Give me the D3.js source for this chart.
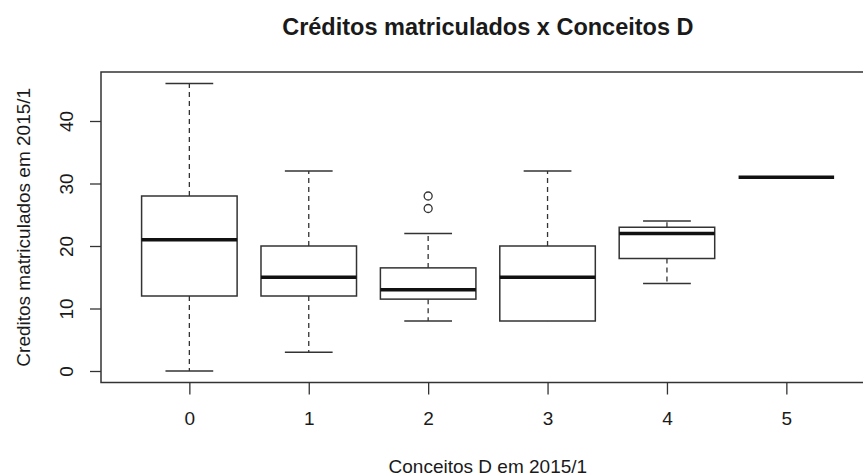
<!DOCTYPE html>
<html>
<head>
<meta charset="utf-8">
<script src="https://cdn.jsdelivr.net/npm/d3@7"></script>
<style>
    body { margin: 0; background: #fff; }
    #chart { width: 863px; height: 476px; }
    text { font-family: "Liberation Sans", Arial, sans-serif; fill: #1a1a1a; }
</style>
</head>
<body>
<div id="chart"></div>
<script>
// values (R boxplot stats per group)
let categories = ["0", "1", "2", "3", "4", "5"];
let whiskerLow = [0, 3, 8, 8, 14, 31];
let q1 = [12, 12, 11.5, 8, 18, 31];
let median = [21, 15, 13, 15, 22, 31];
let q3 = [28, 20, 16.5, 20, 23, 31];
let whiskerHigh = [46, 32, 22, 32, 24, 31];
let outliers = [[], [], [28, 26], [], [], []];
let yTicks = [0, 10, 20, 30, 40];

let titleText = "Créditos matriculados x Conceitos D";
let xTitle = "Conceitos D em 2015/1";
let yTitle = "Creditos matriculados em 2015/1";

class BoxPlotVis {
    constructor(parentElement) {
        this.parentElement = parentElement;
        this.initVis();
    }

    initVis() {
        let vis = this;

        vis.width = 863;
        vis.height = 476;
        vis.plot = { left: 101, top: 72, right: 874.7, bottom: 382.5 };
        vis.fontSize = 19;

        vis.svg = d3.select(`#${vis.parentElement}`).append("svg")
            .attr("width", vis.width)
            .attr("height", vis.height);

        // R style: xlim 0.5..6.5 stretched by 4%, ylim range stretched by 4%
        let n = categories.length;
        let padX = n * 0.04;
        vis.xScale = d3.scaleLinear()
            .domain([0.5 - padX, n + 0.5 + padX])
            .range([vis.plot.left, vis.plot.right]);

        let lo = d3.min(whiskerLow), hi = d3.max(whiskerHigh.concat(outliers.flat()));
        let padY = (hi - lo) * 0.04;
        vis.yScale = d3.scaleLinear()
            .domain([lo - padY, hi + padY])
            .range([vis.plot.bottom, vis.plot.top]);

        vis.wrangleData();
    }

    wrangleData() {
        let vis = this;
        vis.boxData = categories.map((c, i) => ({
            cat: c,
            pos: i + 1,
            min: whiskerLow[i],
            q1: q1[i],
            median: median[i],
            q3: q3[i],
            max: whiskerHigh[i],
            out: outliers[i]
        }));
        vis.updateVis();
    }

    updateVis() {
        let vis = this;
        let stroke = "#333";
        let step = vis.xScale(2) - vis.xScale(1);
        let boxWidth = step * 0.8;
        let capWidth = boxWidth * 0.5;

        // axes
        let xAxis = d3.axisBottom(vis.xScale)
            .tickValues(vis.boxData.map(d => d.pos))
            .tickFormat((d, i) => categories[i])
            .tickSize(12);
        let gx = vis.svg.append("g")
            .attr("transform", `translate(0, ${vis.plot.bottom})`)
            .call(xAxis);
        gx.select(".domain").remove();
        gx.selectAll("line").attr("stroke", stroke).attr("stroke-width", 1.3);
        gx.selectAll("text")
            .attr("y", 42.5).attr("dy", 0)
            .attr("font-size", vis.fontSize)
            .attr("font-family", null);

        let yAxis = d3.axisLeft(vis.yScale).tickValues(yTicks).tickSize(11);
        let gy = vis.svg.append("g")
            .attr("transform", `translate(${vis.plot.left}, 0)`)
            .call(yAxis);
        gy.select(".domain").remove();
        gy.selectAll("line").attr("stroke", stroke).attr("stroke-width", 1.3);
        gy.selectAll("text")
            .attr("x", 0).attr("dy", 0)
            .attr("text-anchor", "middle")
            .attr("transform", "translate(-28, 0) rotate(-90)")
            .attr("font-size", vis.fontSize)
            .attr("font-family", null);

        // plot frame
        vis.svg.append("rect")
            .attr("x", vis.plot.left)
            .attr("y", vis.plot.top)
            .attr("width", vis.plot.right - vis.plot.left)
            .attr("height", vis.plot.bottom - vis.plot.top)
            .attr("fill", "none")
            .attr("stroke", stroke)
            .attr("stroke-width", 1.5);

        let boxes = vis.svg.selectAll(".box").data(vis.boxData)
            .enter().append("g").attr("class", "box");

        // whiskers (dashed)
        boxes.append("line")
            .attr("x1", d => vis.xScale(d.pos))
            .attr("x2", d => vis.xScale(d.pos))
            .attr("y1", d => vis.yScale(d.q3))
            .attr("y2", d => vis.yScale(d.max))
            .attr("stroke", stroke).attr("stroke-width", 1.3)
            .attr("stroke-dasharray", "5,4");
        boxes.append("line")
            .attr("x1", d => vis.xScale(d.pos))
            .attr("x2", d => vis.xScale(d.pos))
            .attr("y1", d => vis.yScale(d.q1))
            .attr("y2", d => vis.yScale(d.min))
            .attr("stroke", stroke).attr("stroke-width", 1.3)
            .attr("stroke-dasharray", "5,4");

        // staples
        boxes.filter(d => d.max > d.q3).append("line")
            .attr("x1", d => vis.xScale(d.pos) - capWidth / 2)
            .attr("x2", d => vis.xScale(d.pos) + capWidth / 2)
            .attr("y1", d => vis.yScale(d.max))
            .attr("y2", d => vis.yScale(d.max))
            .attr("stroke", stroke).attr("stroke-width", 1.5);
        boxes.filter(d => d.min < d.q1).append("line")
            .attr("x1", d => vis.xScale(d.pos) - capWidth / 2)
            .attr("x2", d => vis.xScale(d.pos) + capWidth / 2)
            .attr("y1", d => vis.yScale(d.min))
            .attr("y2", d => vis.yScale(d.min))
            .attr("stroke", stroke).attr("stroke-width", 1.5);

        // iqr box
        boxes.append("rect")
            .attr("x", d => vis.xScale(d.pos) - boxWidth / 2)
            .attr("width", boxWidth)
            .attr("y", d => vis.yScale(d.q3))
            .attr("height", d => vis.yScale(d.q1) - vis.yScale(d.q3))
            .attr("fill", "#fff")
            .attr("stroke", stroke).attr("stroke-width", 1.5);

        // median
        boxes.append("line")
            .attr("x1", d => vis.xScale(d.pos) - boxWidth / 2)
            .attr("x2", d => vis.xScale(d.pos) + boxWidth / 2)
            .attr("y1", d => vis.yScale(d.median))
            .attr("y2", d => vis.yScale(d.median))
            .attr("stroke", "#111").attr("stroke-width", 3.5);

        // outliers
        boxes.selectAll(".out")
            .data(d => d.out.map(v => ({ pos: d.pos, v: v })))
            .enter().append("circle")
            .attr("class", "out")
            .attr("cx", d => vis.xScale(d.pos))
            .attr("cy", d => vis.yScale(d.v))
            .attr("r", 4)
            .attr("fill", "none")
            .attr("stroke", stroke).attr("stroke-width", 1.3);

        // titles
        let midX = (vis.plot.left + vis.plot.right) / 2;
        vis.svg.append("text")
            .attr("x", midX).attr("y", 35)
            .attr("text-anchor", "middle")
            .attr("font-size", 23.5)
            .attr("font-weight", "bold")
            .text(titleText);

        vis.svg.append("text")
            .attr("x", midX).attr("y", 473)
            .attr("text-anchor", "middle")
            .attr("font-size", vis.fontSize)
            .text(xTitle);

        let midY = (vis.plot.top + vis.plot.bottom) / 2;
        vis.svg.append("text")
            .attr("transform", `translate(30, ${midY}) rotate(-90)`)
            .attr("text-anchor", "middle")
            .attr("font-size", vis.fontSize)
            .text(yTitle);
    }
}

new BoxPlotVis("chart");
</script>
</body>
</html>
